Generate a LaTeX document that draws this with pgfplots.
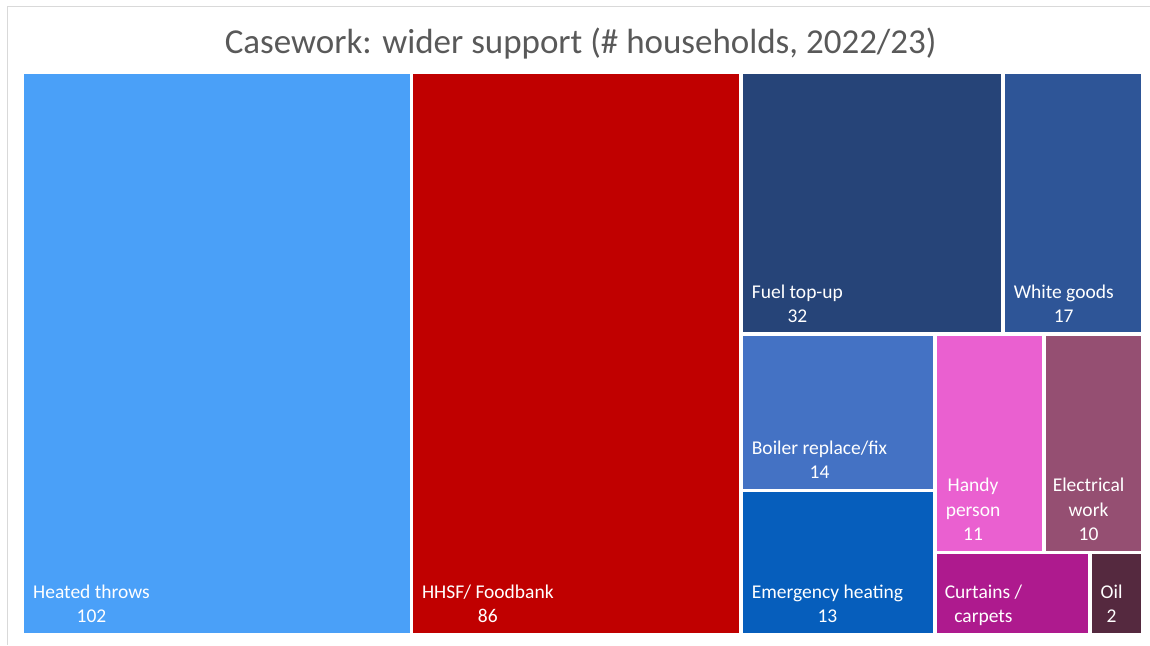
\documentclass[border=0pt]{standalone}
\usepackage{pgfplots}
\pgfplotsset{compat=1.18}
\usepackage{fontspec}
\setmainfont{Carlito}
\definecolor{cHT}{HTML}{4AA0F8}
\definecolor{cHH}{HTML}{C00000}
\definecolor{cFU}{HTML}{264478}
\definecolor{cWG}{HTML}{2E5597}
\definecolor{cBO}{HTML}{4472C4}
\definecolor{cEH}{HTML}{065EBC}
\definecolor{cHP}{HTML}{EA60D0}
\definecolor{cEL}{HTML}{954F72}
\definecolor{cCU}{HTML}{AE1A8E}
\definecolor{cOI}{HTML}{55293F}
\definecolor{frame}{HTML}{D9D9D9}
\definecolor{titlegray}{HTML}{595959}
\newcommand{\rect}[5]{\addplot[fill=#5,draw=none] coordinates {(#1,#2) (#3,#2) (#3,#4) (#1,#4)} -- cycle;}
\begin{document}
\begin{tikzpicture}
\begin{axis}[width=1150pt,height=645pt,scale only axis,
  xmin=0,xmax=1150,ymin=0,ymax=645,y dir=reverse,
  axis lines=none,ticks=none,clip=false]
\addplot[draw=none] coordinates {(0,0) (1150,645)};
\addplot[draw=frame,line width=1pt] coordinates {(8,645) (8,7) (1150,7)};
% treemap tiles: x0, y0, x1, y1 (pixels)
\rect{24}{74}{410}{633}{cHT}   % Heated throws 102
\rect{413}{74}{739}{633}{cHH}  % HHSF/ Foodbank 86
\rect{743}{74}{1001}{332}{cFU} % Fuel top-up 32
\rect{1005}{74}{1141}{332}{cWG}% White goods 17
\rect{743}{336}{933}{489}{cBO} % Boiler 14
\rect{743}{492}{933}{633}{cEH} % Emergency heating 13
\rect{937}{336}{1042}{551}{cHP}% Handy person 11
\rect{1046}{336}{1141}{551}{cEL}% Electrical work 10
\rect{937}{554}{1088}{633}{cCU}% Curtains / carpets
\rect{1092}{554}{1141}{633}{cOI}% Oil 2
\begin{scope}[every node/.style={text=white,font=\fontsize{19.5}{24.5}\selectfont,align=center,anchor=south west,inner sep=0pt,text depth=0pt}]
\node at (axis cs:33,623) {Heated throws\\102};
\node at (axis cs:422,623) {HHSF/ Foodbank\\86};
\node at (axis cs:752,323) {Fuel top-up\\32};
\node at (axis cs:1014,323) {White goods\\17};
\node at (axis cs:752,479) {Boiler replace/fix\\14};
\node at (axis cs:752,623) {Emergency heating\\13};
\node at (axis cs:946,541) {Handy\\person\\11};
\node at (axis cs:1053,541) {Electrical\\work\\10};
\node at (axis cs:945,623) {Curtains /\\carpets};
\node at (axis cs:1101,623) {Oil\\2};
\end{scope}
\node[text=titlegray,font=\fontsize{35}{40}\selectfont,anchor=center] at (axis cs:581,44) {Casework: wider support (\# households, 2022/23)};
\end{axis}
\end{tikzpicture}
\end{document}
